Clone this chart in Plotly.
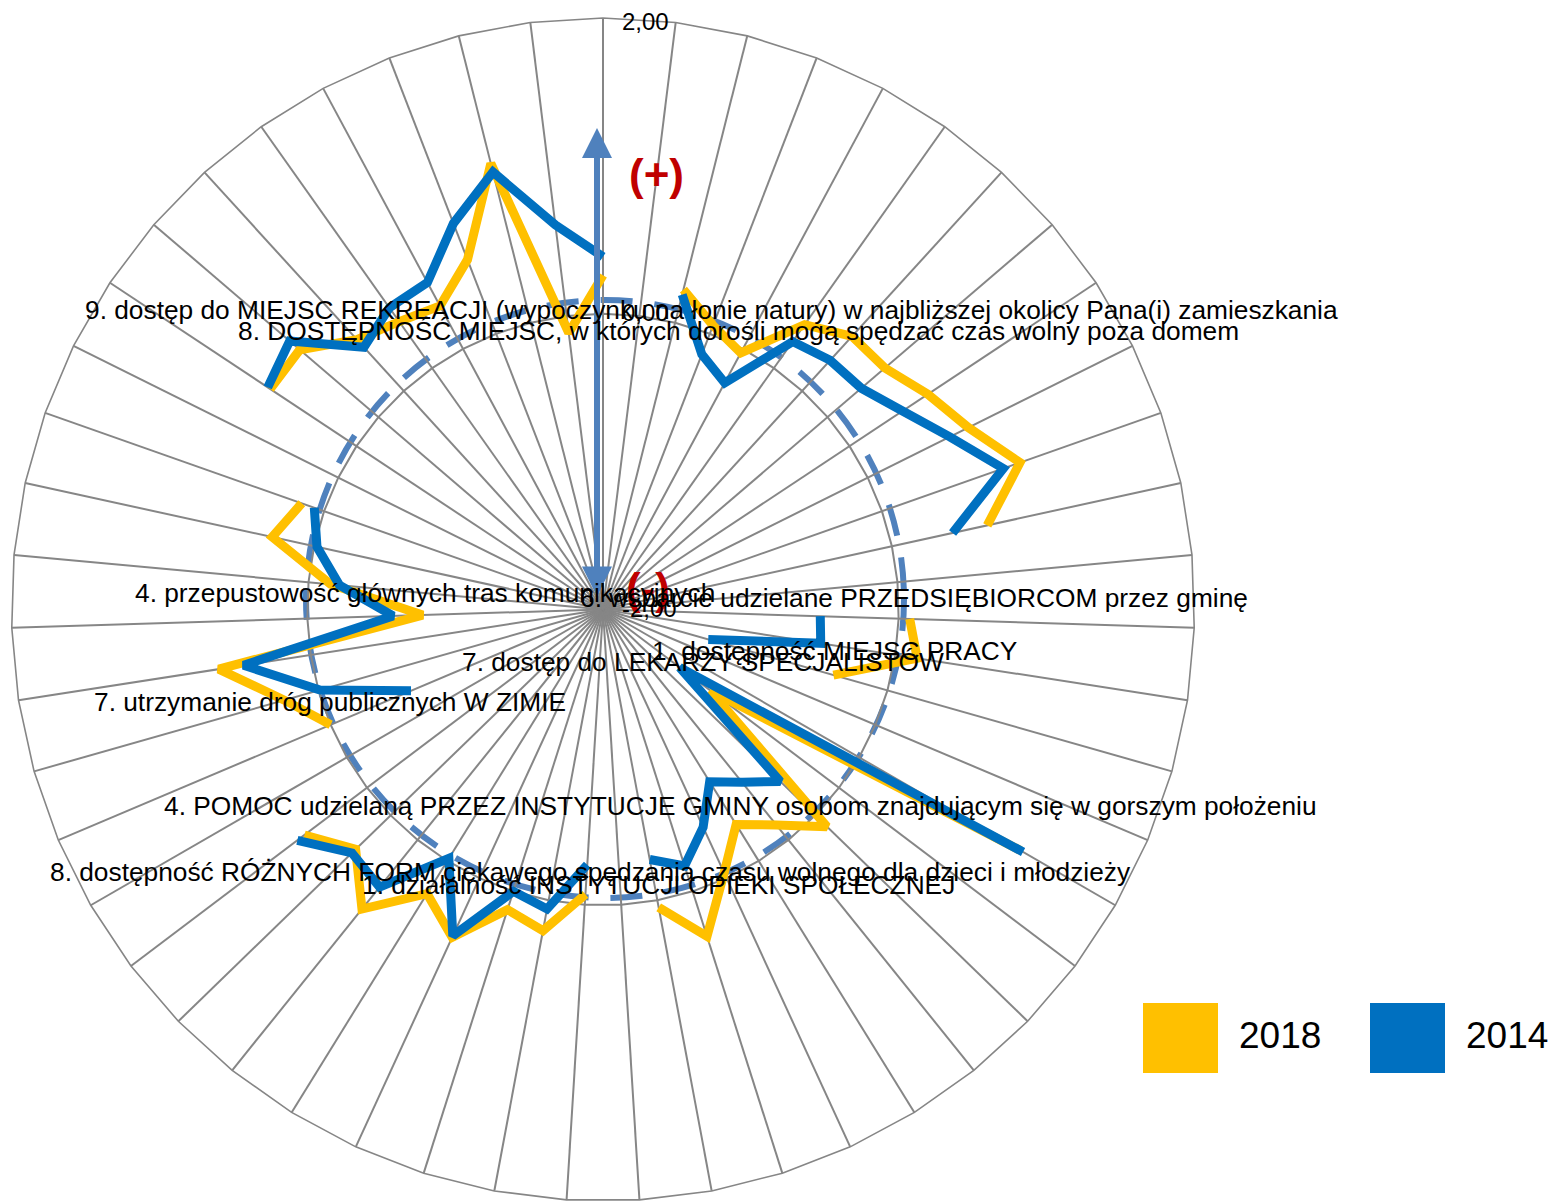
import plotly.graph_objects as go

# ---------------- data ----------------
categories = [str(i) for i in range(1, 52)]  # 51 spokes, first at 12 o'clock, clockwise

series_names = ["2018", "2014"]
series_colors = ["#FFC000", "#0070C0"]

values_2018 = [
    0.26, None, 0.23, 0.06, -0.03, 0.36, 0.50, 0.51, 0.635, 0.76,
    0.99, 0.66, None, 0.075, 0.15, -0.38, None, 1.26, -1.09, 0.11,
    -0.13, -0.29, -0.04, 0.32, 0.05, None, -0.07, 0.21, 0.13, 0.44,
    0.26, 0.60, 0.33, 0.53, None, 0.00, 0.24, 0.63, -0.78, -0.15,
    0.29, 0.16, None, 0.70, 0.70, 0.47, 0.385, 0.33, 0.537, 1.11,
    -0.115,
]
values_2014 = [
    0.385, None, 0.196, -0.15, -0.26, 0.22, 0.28, 0.30, 0.43, 0.62,
    0.87, 0.42, None, -0.53, -0.51, -1.26, None, 1.28, -1.35, -0.33,
    -0.50, -0.63, -0.38, -0.18, -0.28, None, -0.27, 0.06, 0.00, 0.43,
    -0.02, 0.41, 0.365, 0.59, None, -0.59, -0.01, 0.46, -0.58, -0.21,
    -0.02, 0.07, None, 0.72, 0.79, 0.40, 0.50, 0.51, 0.80, 1.05,
    0.62,
]

tick_vals = [-2, 0, 2]
tick_labels = ["-2,00", "0,00", "2,00"]

label_texts = [
    "9. dostęp do MIEJSC REKREACJI (wypoczynku na łonie natury) w najbliższej okolicy Pana(i) zamieszkania",
    "8. DOSTĘPNOŚĆ MIEJSC, w których dorośli mogą spędzać czas wolny poza domem",
    "4. przepustowość głównych tras komunikacyjnych",
    "6. wsparcie udzielane PRZEDSIĘBIORCOM przez gminę",
    "1. dostępność MIEJSC PRACY",
    "7. dostęp do LEKARZY SPECJALISTÓW",
    "7. utrzymanie dróg publicznych W ZIMIE",
    "4. POMOC udzielaną PRZEZ INSTYTUCJE GMINY osobom znajdującym się w gorszym położeniu",
    "8. dostępność RÓŻNYCH FORM ciekawego spędzania czasu wolnego dla dzieci i młodzieży",
    "1. działalność INSTYTUCJI OPIEKI SPOŁECZNEJ",
]

# ---------------- layout geometry (page pixels) ----------------
OFF = 8                      # default body margin of the html page
W, H = 1557 - OFF, 1201 - OFF
CX, CY, R = 603, 610, 592    # chart centre/radius in page pixels
label_pos = [(83, 310), (236, 331), (133, 593), (578, 598), (650, 651),
             (460, 662), (92, 702), (162, 806), (48, 872), (360, 885)]

def px(x):
    return (x - OFF) / W

def py(y):
    return 1 - (y - OFF) / H

fig = go.Figure()

series_values = [values_2018, values_2014]
for name, color, vals in zip(series_names, series_colors, series_values):
    fig.add_trace(go.Scatterpolar(
        r=vals + [vals[0]],
        theta=categories + [categories[0]],
        mode="lines",
        name=name,
        connectgaps=False,
        line=dict(color=color, width=9),
        showlegend=False,
        hoverinfo="skip",
    ))

grid_col = "#868686"
fig.update_layout(
    width=W, height=H,
    margin=dict(l=0, r=0, t=0, b=0),
    paper_bgcolor="white",
    plot_bgcolor="white",
    showlegend=False,
    polar=dict(
        domain=dict(x=[px(CX - R), px(CX + R)], y=[0, py(CY - R)]),
        bgcolor="rgba(0,0,0,0)",
        gridshape="linear",
        angularaxis=dict(
            type="category",
            categoryarray=categories,
            direction="clockwise",
            rotation=90,
            showticklabels=False,
            ticks="",
            showgrid=True,
            gridcolor=grid_col,
            gridwidth=1.5,
            showline=True,
            linecolor=grid_col,
            linewidth=1.6,
        ),
        radialaxis=dict(
            range=[-2, 2],
            tickvals=tick_vals,
            showticklabels=False,
            ticks="",
            showgrid=True,
            gridcolor=grid_col,
            gridwidth=1.5,
            showline=False,
        ),
    ),
    font=dict(family="Liberation Sans, Arial, sans-serif", color="black"),
)

# dashed reference ring (hand-drawn in original, near value 0)
fig.add_shape(type="circle", xref="paper", yref="paper",
              x0=px(306), x1=px(904), y0=py(898), y1=py(300),
              line=dict(color="#4F81BD", width=6, dash="32px,22px"),
              layer="below")

# double-headed vertical arrow
fig.add_annotation(x=px(597), y=py(128), xref="paper", yref="paper",
                   ax=0, ay=598 - 128, axref="pixel", ayref="pixel",
                   text="", showarrow=True, arrowside="end+start",
                   arrowhead=2, startarrowhead=2, arrowsize=1, startarrowsize=1,
                   arrowwidth=6, arrowcolor="#4F81BD")

# (+) and (-) markers
fig.add_annotation(x=px(656), y=py(148), xref="paper", yref="paper", text="<b>(+)</b>",
                   showarrow=False, font=dict(size=44, color="#C00000"))
fig.add_annotation(x=px(648), y=py(588), xref="paper", yref="paper", text="<b>(-)</b>",
                   showarrow=False, font=dict(size=44, color="#C00000"))

# radial tick labels along the vertical axis
for v, t in zip(tick_vals, tick_labels):
    ry = CY - (v - tick_vals[0]) / (tick_vals[-1] - tick_vals[0]) * R
    fig.add_annotation(x=px(CX + 17), y=py(max(ry - 2, 21)), xref="paper", yref="paper", text=t,
                       showarrow=False, xanchor="left", yanchor="middle",
                       font=dict(size=24, color="black"))

# category text labels
for t, (lx, ly) in zip(label_texts, label_pos):
    fig.add_annotation(x=px(lx), y=py(ly), xref="paper", yref="paper", text=t,
                       showarrow=False, xanchor="left", yanchor="middle",
                       font=dict(size=26.3, color="black"))

# custom legend
leg_x = [1143, 1370]
for name, color, lx in zip(series_names, series_colors, leg_x):
    fig.add_shape(type="rect", xref="paper", yref="paper",
                  x0=px(lx), x1=px(lx + 75), y0=py(1073), y1=py(1003),
                  fillcolor=color, line=dict(width=0))
    fig.add_annotation(x=px(lx + 94), y=py(1035), xref="paper", yref="paper", text=name,
                       showarrow=False, xanchor="left", yanchor="middle",
                       font=dict(size=37, color="black"))

fig.write_html("out.html")
